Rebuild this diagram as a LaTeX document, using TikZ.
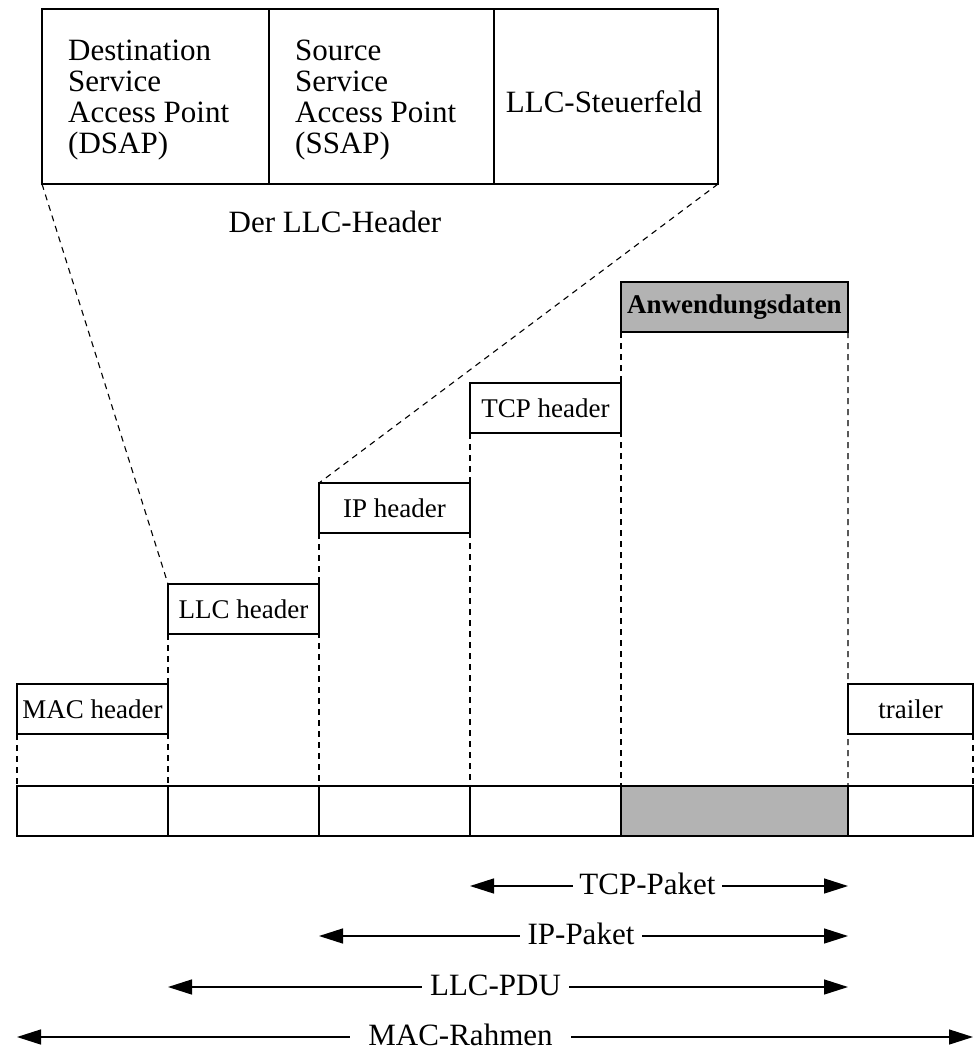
\documentclass[tikz,border=0pt]{standalone}
\usepackage{fontspec}
\setmainfont{Liberation Serif}
\usetikzlibrary{arrows.meta}
\definecolor{fillgray}{HTML}{B3B3B3}
\tikzset{
  cell/.style={draw, line width=1.3bp, inner sep=0pt, outer sep=0pt, anchor=north west},
  hbox/.style={draw, line width=1.3bp, inner sep=0pt, outer sep=0pt, minimum height=50bp, font=\fontsize{27bp}{27bp}\selectfont},
  rowcell/.style={draw, line width=1.3bp, inner sep=0pt, outer sep=0pt, minimum height=50bp},
  toptext/.style={inner sep=0pt, font=\fontsize{31bp}{31bp}\selectfont},
  guide/.style={line width=1.1bp, dash pattern=on 6bp off 5bp},
  span/.style={line width=1.4bp, {Triangle[length=24bp,width=15bp]}-{Triangle[length=24bp,width=15bp]}},
  spanlabel/.style={fill=white, inner ysep=2bp, anchor=base, font=\fontsize{31bp}{31bp}\selectfont}
}
\begin{document}
\begin{tikzpicture}[x=1bp,y=-1bp]
\useasboundingbox (0,0) rectangle (980,1050);

% LLC header detail
\node[cell, minimum width=227bp, minimum height=175bp] (dsap) at (42,9) {};
\node[cell, minimum width=225bp, minimum height=175bp] (ssap) at (269,9) {};
\node[cell, minimum width=224bp, minimum height=175bp] (ctrl) at (494,9) {};
\node[toptext, align=left, anchor=north west] (dsaptxt) at (68,40) {Destination\\Service\\Access Point\\(DSAP)};
\node[toptext, align=left, anchor=north west] (ssaptxt) at (295,40) {Source\\Service\\Access Point\\(SSAP)};
\node[toptext, anchor=base] (ctrltxt) at (604,112) {LLC-Steuerfeld};
\node[toptext, anchor=base] (llccap) at (335,232) {Der LLC-Header};

% stacked headers
\node[hbox, minimum width=227bp, fill=fillgray] (app) at (734.5,307) {\bfseries Anwendungsdaten};
\node[hbox, minimum width=151bp] (tcp) at (545.5,408) {TCP header};
\node[hbox, minimum width=151bp] (ip) at (394.5,508) {IP header};
\node[hbox, minimum width=151bp] (llc) at (243.5,609) {LLC header};
\node[hbox, minimum width=151bp] (mac) at (92.5,709) {MAC header};
\node[hbox, minimum width=125bp] (trl) at (910.5,709) {trailer};

% frame row
\node[rowcell, minimum width=151bp] (r1) at (92.5,811) {};
\node[rowcell, minimum width=151bp] (r2) at (243.5,811) {};
\node[rowcell, minimum width=151bp] (r3) at (394.5,811) {};
\node[rowcell, minimum width=151bp] (r4) at (545.5,811) {};
\node[rowcell, minimum width=227bp, fill=fillgray] (r5) at (734.5,811) {};
\node[rowcell, minimum width=125bp] (r6) at (910.5,811) {};

% dashed guides
\draw[guide] (mac.south west) -- (r1.north west);
\draw[guide] (llc.south west) -- (r2.north west);
\draw[guide] (ip.south west) -- (r3.north west);
\draw[guide] (tcp.south west) -- (r4.north west);
\draw[guide] (app.south west) -- (r5.north west);
\draw[guide] (app.south east) -- (r6.north west);
\draw[guide] (trl.south east) -- (r6.north east);
\draw[guide] (dsap.south west) -- (llc.north west);
\draw[guide] (ctrl.south east) -- (ip.north west);

% spans
\coordinate (tcpL) at (470,886);  \coordinate (tcpR) at (848,886);
\coordinate (ipL)  at (319,936);  \coordinate (ipR)  at (848,936);
\coordinate (llcL) at (168,987);  \coordinate (llcR) at (848,987);
\coordinate (macL) at (17,1037);  \coordinate (macR) at (973,1037);
\draw[span] (tcpL) -- (tcpR);
\draw[span] (ipL) -- (ipR);
\draw[span] (llcL) -- (llcR);
\draw[span] (macL) -- (macR);
\node[spanlabel, inner xsep=6bp] (tcplab) at (647.5,894) {TCP-Paket};
\node[spanlabel, inner xsep=8bp] (iplab) at (581,944) {IP-Paket};
\node[spanlabel, inner xsep=8bp] (llclab) at (495.5,995) {LLC-PDU};
\node[spanlabel, inner xsep=18bp] (maclab) at (460.5,1045) {MAC-Rahmen};
\end{tikzpicture}
\end{document}
